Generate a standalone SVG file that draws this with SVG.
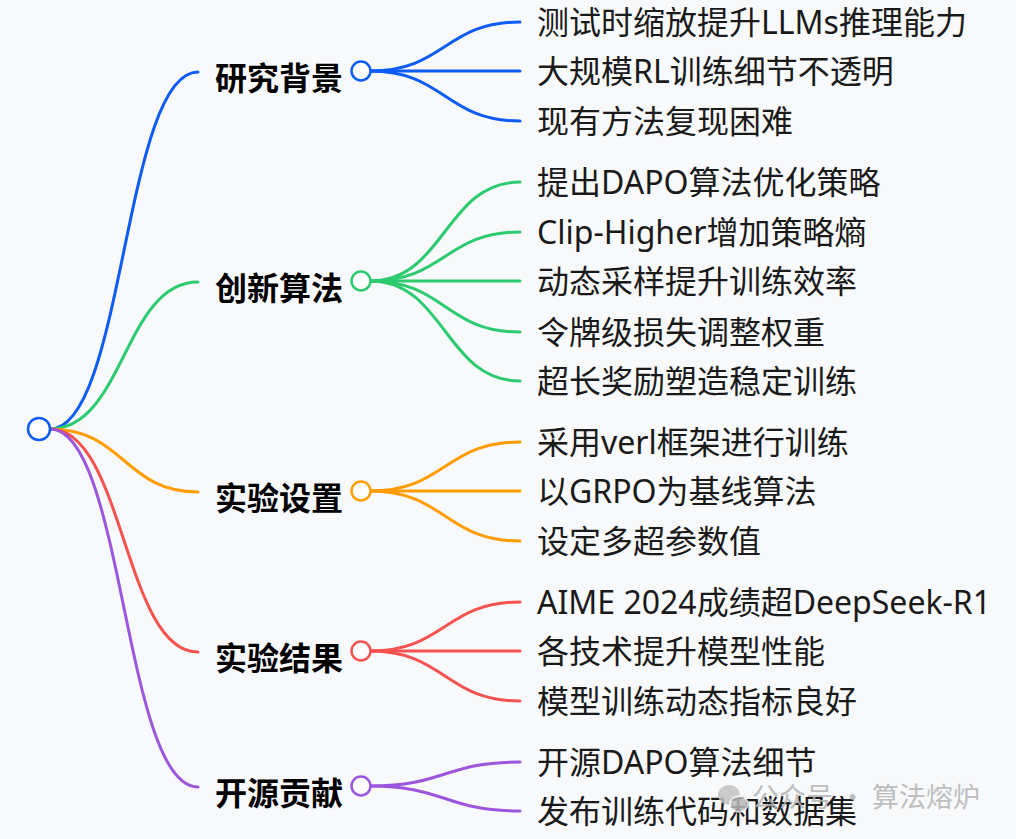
<svg xmlns="http://www.w3.org/2000/svg" width="1016" height="839" viewBox="0 0 1016 839">
<style>
.bg{fill:#f8f9fb}
.ln{fill:none;stroke-width:3;stroke-linecap:round}
.b{stroke:#0d5cf6}.g{stroke:#2dcb70}.o{stroke:#ff9d00}.r{stroke:#f4534f}.p{stroke:#9c56de}
.dot{fill:#fff;stroke-width:2.5}
.cat{font-family:"Noto Sans","Noto Sans CJK SC",sans-serif;font-size:32px;font-weight:bold;fill:#000}
.leaf{font-family:"Noto Sans","Noto Sans CJK SC",sans-serif;font-size:32px;fill:#1a1a1a}
.wm{font-family:"Noto Sans CJK SC",sans-serif;font-size:27px;fill:#b4b4b4}
</style>
<rect class="bg" width="1016" height="839"/>
<g id="connectors">
<path class="ln b" d="M50,429 C124,429 124,72 198,72"/>
<path class="ln g" d="M50,429 C124,429 124,282 198,282"/>
<path class="ln o" d="M50,429 C124,429 124,492 198,492"/>
<path class="ln r" d="M50,429 C124,429 124,652 198,652"/>
<path class="ln p" d="M50,429 C124,429 124,787 198,787"/>
<path class="ln b" d="M370,71 C445,71 445,22 520,22"/>
<path class="ln b" d="M370,71 L520,71"/>
<path class="ln b" d="M370,71 C445,71 445,121 520,121"/>
<path class="ln g" d="M370,281 C445,281 445,182 520,182"/>
<path class="ln g" d="M370,281 C445,281 445,232 520,232"/>
<path class="ln g" d="M370,281 L520,281"/>
<path class="ln g" d="M370,281 C445,281 445,332 520,332"/>
<path class="ln g" d="M370,281 C445,281 445,381 520,381"/>
<path class="ln o" d="M370,491 C445,491 445,442 520,442"/>
<path class="ln o" d="M370,491 L520,491"/>
<path class="ln o" d="M370,491 C445,491 445,541 520,541"/>
<path class="ln r" d="M370,651 C445,651 445,602 520,602"/>
<path class="ln r" d="M370,651 L520,651"/>
<path class="ln r" d="M370,651 C445,651 445,701 520,701"/>
<path class="ln p" d="M370,786 C445,786 445,762 520,762"/>
<path class="ln p" d="M370,786 C445,786 445,811 520,811"/>
</g>
<g id="root"><circle class="dot b" cx="39" cy="429" r="11" stroke-width="3"/></g>
<g id="n1">
<text class="cat" x="215" y="90">研究背景</text>
<circle class="dot b" cx="361" cy="71" r="9.5"/>
</g>
<g id="n1a"><text class="leaf" x="537" y="34">测试时缩放提升LLMs推理能力</text></g>
<g id="n1b"><text class="leaf" x="537" y="83">大规模RL训练细节不透明</text></g>
<g id="n1c"><text class="leaf" x="537" y="133">现有方法复现困难</text></g>
<g id="n2">
<text class="cat" x="215" y="300">创新算法</text>
<circle class="dot g" cx="361" cy="281" r="9.5"/>
</g>
<g id="n2a"><text class="leaf" x="537" y="194">提出DAPO算法优化策略</text></g>
<g id="n2b"><text class="leaf" x="537" y="244">Clip-Higher增加策略熵</text></g>
<g id="n2c"><text class="leaf" x="537" y="293">动态采样提升训练效率</text></g>
<g id="n2d"><text class="leaf" x="537" y="344">令牌级损失调整权重</text></g>
<g id="n2e"><text class="leaf" x="537" y="393">超长奖励塑造稳定训练</text></g>
<g id="n3">
<text class="cat" x="215" y="510">实验设置</text>
<circle class="dot o" cx="361" cy="491" r="9.5"/>
</g>
<g id="n3a"><text class="leaf" x="537" y="454">采用verl框架进行训练</text></g>
<g id="n3b"><text class="leaf" x="537" y="503">以GRPO为基线算法</text></g>
<g id="n3c"><text class="leaf" x="537" y="553">设定多超参数值</text></g>
<g id="n4">
<text class="cat" x="215" y="670">实验结果</text>
<circle class="dot r" cx="361" cy="651" r="9.5"/>
</g>
<g id="n4a"><text class="leaf" x="537" y="614">AIME 2024成绩超DeepSeek-R1</text></g>
<g id="n4b"><text class="leaf" x="537" y="663">各技术提升模型性能</text></g>
<g id="n4c"><text class="leaf" x="537" y="713">模型训练动态指标良好</text></g>
<g id="n5">
<text class="cat" x="215" y="805">开源贡献</text>
<circle class="dot p" cx="361" cy="786" r="9.5"/>
</g>
<g id="n5a"><text class="leaf" x="537" y="774">开源DAPO算法细节</text></g>
<g id="n5b"><text class="leaf" x="537" y="823">发布训练代码和数据集</text></g>
<g id="watermark" opacity="0.85">
<ellipse cx="729" cy="795" rx="11" ry="10" fill="#c4c4c4"/>
<ellipse cx="739" cy="804" rx="9" ry="8" fill="#b8b8b8" stroke="#f8f9fb" stroke-width="1.5"/>
<text class="wm" x="752" y="807">公众号 · 算法熔炉</text>
</g>
</svg>
